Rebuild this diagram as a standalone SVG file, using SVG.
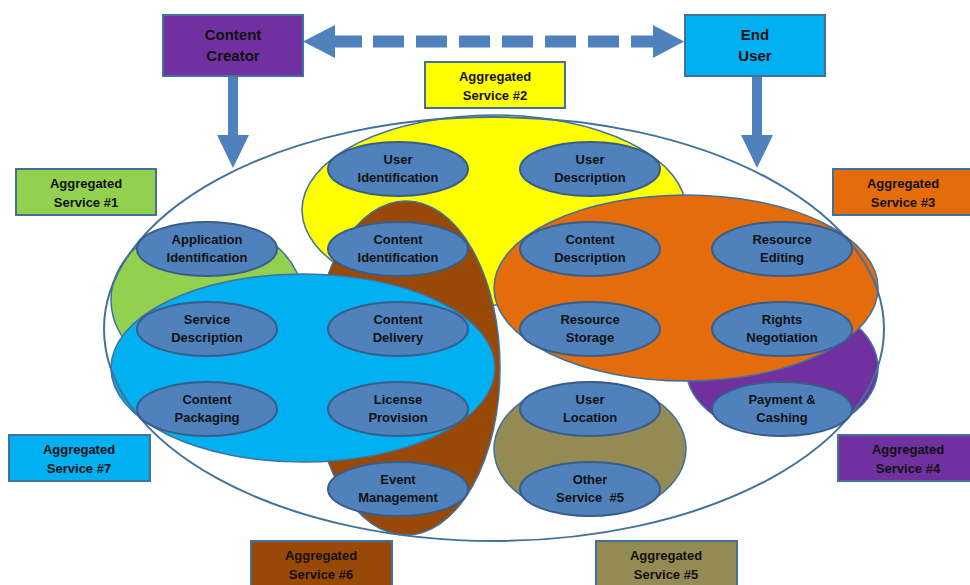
<svg xmlns="http://www.w3.org/2000/svg" width="970" height="585" viewBox="0 0 970 585">
<defs>
<style>
text{font-family:"Liberation Sans",Arial,sans-serif;font-weight:bold;font-size:13px;fill:#111;text-anchor:middle}
.box{stroke:#41719C;stroke-width:2}
.big{stroke:#41719C;stroke-width:1.5}
.svc{fill:#4F81BD;stroke:#385D8A;stroke-width:2}
.arr{fill:#4F81BD}
.actor text{font-size:15px}
</style>
</defs>
<rect width="970" height="585" fill="#fff"/>

<!-- big ellipse fill -->
<ellipse cx="494" cy="329" rx="390" ry="212" fill="#fff"/>

<!-- aggregated service areas -->
<g id="area2"><ellipse class="big" cx="494" cy="210" rx="192" ry="95" fill="#FFFF00"/></g>
<g id="area1"><ellipse class="big" cx="207" cy="300" rx="96" ry="78" fill="#92D050"/></g>
<g id="area4"><ellipse class="big" cx="782" cy="368" rx="96" ry="67" fill="#7030A0"/></g>
<g id="area5"><ellipse class="big" cx="590" cy="449" rx="96" ry="67" fill="#948A54"/></g>
<g id="area6"><ellipse class="big" cx="406" cy="368" rx="94" ry="167" fill="#984807"/></g>
<g id="area3"><ellipse class="big" cx="686" cy="288" rx="192" ry="93" fill="#E46C0A"/></g>
<g id="area7"><ellipse class="big" cx="303" cy="368" rx="192" ry="94" fill="#00B0F0"/></g>

<!-- big ellipse outline -->
<ellipse cx="494" cy="329" rx="390" ry="212" fill="none" stroke="#41719C" stroke-width="2"/>

<!-- connectors -->
<g id="connectors" class="arr">
<polygon points="303,41.5 335,25 335,35.5 362,35.5 362,47.5 335,47.5 335,58"/>
<line x1="373" y1="41.5" x2="620" y2="41.5" stroke="#4F81BD" stroke-width="12" stroke-dasharray="31 12"/>
<polygon points="684,41.5 653,25 653,35.5 631,35.5 631,47.5 653,47.5 653,58"/>
<polygon points="228,76 238,76 238,135 249,135 233,168 217,135 228,135"/>
<polygon points="752,76 762,76 762,135 773,135 757,168 741,135 752,135"/>
</g>

<!-- actors -->
<g id="content-creator" class="actor"><rect class="box" x="163" y="15" width="140" height="61" fill="#7030A0"/><text x="233" y="40">Content</text><text x="233" y="61">Creator</text></g>
<g id="end-user" class="actor"><rect class="box" x="685" y="15" width="140" height="61" fill="#00B0F0"/><text x="755" y="40">End</text><text x="755" y="61">User</text></g>

<!-- aggregated service labels -->
<g id="label2"><rect class="box" x="425" y="62" width="140" height="46" fill="#FFFF00"/><text x="495" y="81">Aggregated</text><text x="495" y="100">Service #2</text></g>
<g id="label1"><rect class="box" x="16" y="169" width="140" height="46" fill="#92D050"/><text x="86" y="188">Aggregated</text><text x="86" y="207">Service #1</text></g>
<g id="label3"><rect class="box" x="833" y="169" width="140" height="46" fill="#E46C0A"/><text x="903" y="188">Aggregated</text><text x="903" y="207">Service #3</text></g>
<g id="label7"><rect class="box" x="9" y="435" width="141" height="46" fill="#00B0F0"/><text x="79" y="454">Aggregated</text><text x="79" y="473">Service #7</text></g>
<g id="label4"><rect class="box" x="838" y="435" width="140" height="46" fill="#7030A0"/><text x="908" y="454">Aggregated</text><text x="908" y="473">Service #4</text></g>
<g id="label6"><rect class="box" x="251" y="541" width="141" height="48" fill="#984807"/><text x="321" y="560">Aggregated</text><text x="321" y="579">Service #6</text></g>
<g id="label5"><rect class="box" x="596" y="541" width="141" height="48" fill="#948A54"/><text x="666" y="560">Aggregated</text><text x="666" y="579">Service #5</text></g>

<!-- services -->
<g id="user-identification"><ellipse class="svc" cx="398" cy="169" rx="70" ry="27"/><text x="398" y="164">User</text><text x="398" y="182">Identification</text></g>
<g id="user-description"><ellipse class="svc" cx="590" cy="169" rx="70" ry="27"/><text x="590" y="164">User</text><text x="590" y="182">Description</text></g>
<g id="application-identification"><ellipse class="svc" cx="207" cy="249" rx="70" ry="27"/><text x="207" y="244">Application</text><text x="207" y="262">Identification</text></g>
<g id="content-identification"><ellipse class="svc" cx="398" cy="249" rx="70" ry="27"/><text x="398" y="244">Content</text><text x="398" y="262">Identification</text></g>
<g id="content-description"><ellipse class="svc" cx="590" cy="249" rx="70" ry="27"/><text x="590" y="244">Content</text><text x="590" y="262">Description</text></g>
<g id="resource-editing"><ellipse class="svc" cx="782" cy="249" rx="70" ry="27"/><text x="782" y="244">Resource</text><text x="782" y="262">Editing</text></g>
<g id="service-description"><ellipse class="svc" cx="207" cy="329" rx="70" ry="27"/><text x="207" y="324">Service</text><text x="207" y="342">Description</text></g>
<g id="content-delivery"><ellipse class="svc" cx="398" cy="329" rx="70" ry="27"/><text x="398" y="324">Content</text><text x="398" y="342">Delivery</text></g>
<g id="resource-storage"><ellipse class="svc" cx="590" cy="329" rx="70" ry="27"/><text x="590" y="324">Resource</text><text x="590" y="342">Storage</text></g>
<g id="rights-negotiation"><ellipse class="svc" cx="782" cy="329" rx="70" ry="27"/><text x="782" y="324">Rights</text><text x="782" y="342">Negotiation</text></g>
<g id="content-packaging"><ellipse class="svc" cx="207" cy="409" rx="70" ry="27"/><text x="207" y="404">Content</text><text x="207" y="422">Packaging</text></g>
<g id="license-provision"><ellipse class="svc" cx="398" cy="409" rx="70" ry="27"/><text x="398" y="404">License</text><text x="398" y="422">Provision</text></g>
<g id="user-location"><ellipse class="svc" cx="590" cy="409" rx="70" ry="27"/><text x="590" y="404">User</text><text x="590" y="422">Location</text></g>
<g id="payment-cashing"><ellipse class="svc" cx="782" cy="409" rx="70" ry="27"/><text x="782" y="404">Payment &amp;</text><text x="782" y="422">Cashing</text></g>
<g id="event-management"><ellipse class="svc" cx="398" cy="489" rx="70" ry="27"/><text x="398" y="484">Event</text><text x="398" y="502">Management</text></g>
<g id="other-service-5"><ellipse class="svc" cx="590" cy="489" rx="70" ry="27"/><text x="590" y="484">Other</text><text x="590" y="502" xml:space="preserve">Service  #5</text></g>
</svg>
